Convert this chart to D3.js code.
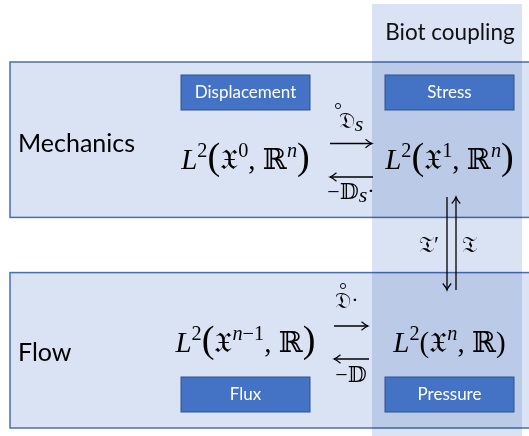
<!DOCTYPE html>
<html>
<head>
<meta charset="utf-8">
<script src="https://cdn.jsdelivr.net/npm/d3@7"></script>
<style>
  body { margin: 0; background: #fff; }
  text { font-family: Lato, "Open Sans", sans-serif; }
  .math { font-family: "Liberation Serif", "DejaVu Serif", serif; }
</style>
</head>
<body>
<div id="chart"></div>
<script>
var width = 529, height = 436;

// rows of the diagram and their blue field tags
var rows = ["Mechanics", "Flow"];
var fields = [["Displacement", "Stress"], ["Flux", "Pressure"]];
// function spaces, "^" = superscript, "!" = big paren
var spaces = [["L^2!(𝔛^0, ℝ^n!)", "L^2!(𝔛^1, ℝ^n!)"],
              ["L^2!(𝔛^{n−1}, ℝ!)", "L^2(𝔛^n, ℝ)"]];
// operators between the two columns: [symbol, subscript, trailing dot]
var forwardOps = [["𝔇", "s", ""], ["𝔇", "", "·"]];
var backwardOps = [["−𝔻", "s", "·"], ["−𝔻", "", ""]];
var couplingOps = ["𝔗′", "𝔗"];
var columnTitle = "Biot coupling";

var svg = d3.select("#chart").append("svg")
    .attr("width", width)
    .attr("height", height);

var defs = svg.append("defs");
defs.append("marker")
    .attr("id", "head")
    .attr("viewBox", "-8 -5 10 10")
    .attr("markerWidth", 10).attr("markerHeight", 10)
    .attr("markerUnits", "userSpaceOnUse")
    .attr("orient", "auto")
  .append("path")
    .attr("d", "M-6.5,-4.2 Q-2.5,-0.8 0,0 Q-2.5,0.8 -6.5,4.2")
    .attr("fill", "none")
    .attr("stroke", "#000")
    .attr("stroke-width", 1.2);

// layout scales
var yRow = d3.scaleBand().domain(d3.range(rows.length)).range([62, 428]).paddingInner(0.262);
var xCol = d3.scalePoint().domain([0, 1]).range([245.5, 449.5]);

/* row boxes */
svg.selectAll("rect.row")
    .data(rows)
    .enter().append("rect")
    .attr("class", "row")
    .attr("x", 10)
    .attr("y", function(d, i) { return yRow(i); })
    .attr("width", 530)
    .attr("height", yRow.bandwidth())
    .attr("fill", "#dae3f3")
    .attr("stroke", "#4a6fb0")
    .attr("stroke-width", 1.5);

/* coupling column, multiplied over the boxes */
svg.append("rect")
    .attr("x", 372).attr("y", 4)
    .attr("width", 150).attr("height", 440)
    .attr("fill", "#dae3f3")
    .style("mix-blend-mode", "multiply");

svg.append("text")
    .attr("x", 450).attr("y", 40)
    .attr("text-anchor", "middle")
    .attr("font-size", 22.5)
    .attr("fill", "#111")
    .text(columnTitle);

svg.selectAll("text.rowlabel")
    .data(rows)
    .enter().append("text")
    .attr("class", "rowlabel")
    .attr("x", 18)
    .attr("y", function(d, i) { return yRow(i) + 90 - i * 2; })
    .attr("font-size", 25)
    .attr("fill", "#000")
    .text(function(d) { return d; });

/* field tags: top of mechanics box, bottom of flow box */
var tagY = [75, 377];
fields.forEach(function(row, i) {
    row.forEach(function(name, j) {
        svg.append("rect")
            .attr("x", xCol(j) - 64.5).attr("y", tagY[i])
            .attr("width", 129).attr("height", 35)
            .attr("fill", "#4472c4")
            .attr("stroke", "#2f528f")
            .attr("stroke-width", 1);
        svg.append("text")
            .attr("x", xCol(j)).attr("y", tagY[i] + 23)
            .attr("text-anchor", "middle")
            .attr("font-size", 17)
            .attr("fill", "#fff")
            .text(name);
    });
});

/* math: tiny parser for ^ superscripts and ! big parens */
function drawMath(x, y, src, size) {
    var t = svg.append("text")
        .attr("class", "math")
        .attr("x", x).attr("y", y)
        .attr("text-anchor", "middle")
        .attr("font-size", size)
        .attr("fill", "#000");
    var chars = Array.from(src), i = 0, raised = false, lift = size * 0.4;
    while (i < chars.length) {
        var c = chars[i], s, sup = false, big = false;
        if (c == "^") {
            i++;
            if (chars[i] == "{") {
                var k = chars.indexOf("}", i);
                s = chars.slice(i + 1, k).join("");
                i = k + 1;
            } else { s = chars[i]; i++; }
            sup = true;
        } else if (c == "!") {
            s = chars[i + 1]; i += 2; big = true;
        } else { s = c; i++; }
        if (sup) {
            // italic letters, upright digits and minus
            Array.from(s).forEach(function(ch, m) {
                var sp = t.append("tspan").text(ch).attr("font-size", size * 0.7);
                if (m == 0) sp.attr("dy", -lift);
                if (/[a-z]/.test(ch)) sp.attr("font-style", "italic");
            });
            raised = true;
        } else {
            var span = t.append("tspan").text(s);
            if (raised) span.attr("dy", lift);
            raised = false;
            if (big) span.attr("font-size", size * 1.32);
            if (/[A-Za-z]/.test(s)) span.attr("font-style", "italic");
        }
    }
}

spaces.forEach(function(row, i) {
    row.forEach(function(src, j) {
        drawMath(xCol(j), i == 0 ? 169 : 352, src, 29);
    });
});

/* horizontal arrows between the columns */
var arrowY = [[143.5, 177], [326, 359]];
var arrowX = [[330, 372], [334, 368]];
function line(x1, y1, x2, y2) {
    svg.append("line")
        .attr("x1", x1).attr("y1", y1).attr("x2", x2).attr("y2", y2)
        .attr("stroke", "#000")
        .attr("stroke-width", 1.3)
        .attr("marker-end", "url(#head)");
}
function opLabel(x, y, op, size) {
    var t = svg.append("text")
        .attr("class", "math")
        .attr("x", x).attr("y", y)
        .attr("text-anchor", "middle")
        .attr("font-size", size)
        .attr("fill", "#000");
    t.append("tspan").text(op[0]);
    if (op[1]) t.append("tspan").attr("font-style", "italic").attr("dy", 3).text(op[1]);
    if (op[2]) t.append("tspan").attr("dy", op[1] ? -4 : -1).text(op[2]);
    return t;
}
var fwdLabelY = [128, 308], bwdLabelY = [199, 382];
rows.forEach(function(r, i) {
    var a = arrowX[i];
    line(a[0], arrowY[i][0], a[1], arrowY[i][0]);
    line(a[1] + 1, arrowY[i][1], a[0], arrowY[i][1]);
    var mid = (a[0] + a[1]) / 2;
    opLabel(mid + (i == 0 ? 0 : -4), fwdLabelY[i], forwardOps[i], 22);
    // ring accent over the D
    svg.append("circle")
        .attr("cx", mid + (i == 0 ? -13 : -8)).attr("cy", fwdLabelY[i] - 22)
        .attr("r", 2.6)
        .attr("fill", "none").attr("stroke", "#000").attr("stroke-width", 0.9);
    opLabel(mid, bwdLabelY[i], backwardOps[i], 22);
});

/* vertical coupling arrows */
line(447, 197, 447, 290);
line(456, 290, 456, 197);
svg.append("text").attr("class", "math")
    .attr("x", 429).attr("y", 252).attr("text-anchor", "middle")
    .attr("font-size", 23).text(couplingOps[0]);
svg.append("text").attr("class", "math")
    .attr("x", 469).attr("y", 252).attr("text-anchor", "middle")
    .attr("font-size", 23).text(couplingOps[1]);
</script>
</body>
</html>
